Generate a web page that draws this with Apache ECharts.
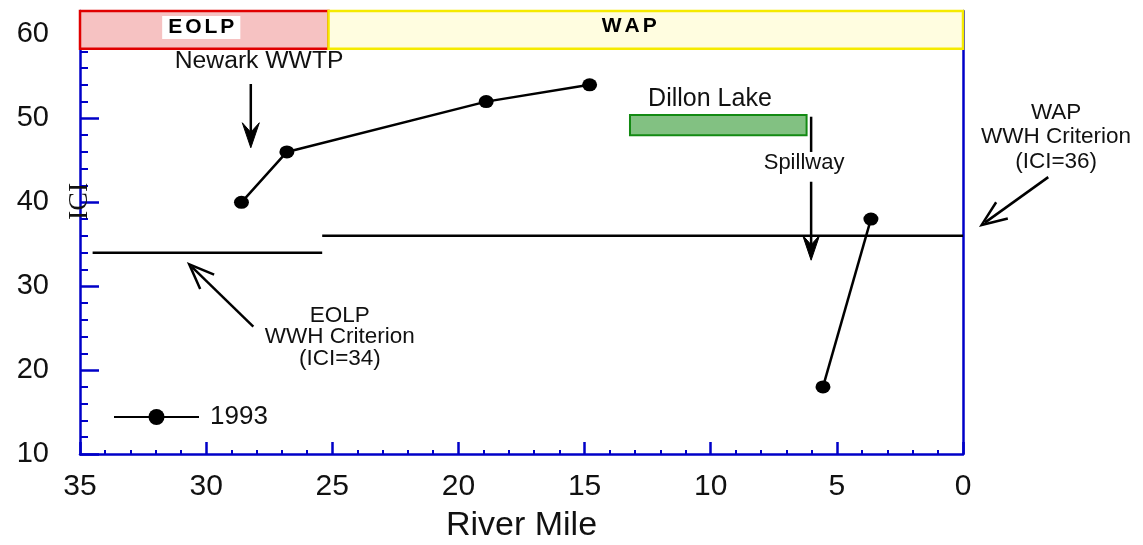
<!DOCTYPE html>
<html>
<head>
<meta charset="utf-8">
<script src="https://cdn.jsdelivr.net/npm/echarts@6/dist/echarts.min.js"></script>
<style>
  html, body { margin: 0; padding: 0; background: #ffffff; }
  #chart { width: 1143px; height: 545px; }
</style>
</head>
<body>
<div id="chart"></div>
<script>
// ICI scores by river mile, 1993 survey (upstream reach, then below Dillon Lake)
const upstreamMiles = [28.6, 26.8, 18.9, 14.8];
const upstreamICI = [40, 46, 52, 54];
const downstreamMiles = [5.55, 3.65];
const downstreamICI = [18, 38];

// Warmwater habitat criteria for each ecoregion
const eolpCriterionMiles = [34.5, 25.4];
const eolpCriterionICI = 34;
const wapCriterionMiles = [25.4, 0];
const wapCriterionICI = 36;

// Ecoregion extents along the river
const ecoregionNames = ['EOLP', 'WAP'];
const ecoregionFromMile = [35, 25.15];
const ecoregionToMile = [25.15, 0];

// Dillon Lake impoundment and its spillway
const lakeMiles = [13.2, 6.2];
const spillwayMile = 6.02;

// Axis scales
const xMin = 0, xMax = 35, xInterval = 5;
const yMin = 10, yMax = 62.8, yInterval = 10;

const FONT = '"Liberation Sans", Arial, Helvetica, sans-serif';
const BLUE = '#0000c8';
const INK = '#111111';
const zip = (xs, ys) => xs.map((x, i) => [x, Array.isArray(ys) ? ys[i] : ys]);

const chart = echarts.init(document.getElementById('chart'), null, { renderer: 'canvas' });

const bandColors = [
  { color: '#f6c2c2', borderColor: '#e00000' },
  { color: '#fffde0', borderColor: '#f5ea00' }
];
const bandLabelOffset = [[-3, -2.5], [-16.5, -3.5]];

// spaced capitals for the ecoregion headers
const spaced = (s) => s.split('').map((c) => '{s|' + c + '}').join('');

const option = {
  backgroundColor: '#ffffff',
  animation: false,
  grid: { left: 80, right: 180, top: 11, bottom: 91, outerBoundsMode: 'none' },
  legend: {
    data: ['1993'],
    left: 113,
    top: 404,
    padding: 0,
    itemWidth: 85,
    itemHeight: 20,
    textStyle: { fontFamily: FONT, fontSize: 26, color: INK, padding: [0, 0, 0, 6] }
  },
  xAxis: {
    type: 'value', inverse: true, min: xMin, max: xMax, interval: xInterval,
    name: 'River Mile', nameLocation: 'middle', nameGap: 55,
    nameTextStyle: { fontFamily: FONT, fontSize: 34, color: INK },
    axisLine: { show: true, onZero: false, lineStyle: { color: BLUE, width: 2.5 } },
    axisTick: { show: true, inside: true, length: 12, lineStyle: { color: BLUE, width: 2.5 } },
    minorTick: { show: true, splitNumber: 5, length: 4, lineStyle: { color: BLUE, width: 2 } },
    axisLabel: { margin: 18, fontFamily: FONT, fontSize: 30, color: INK },
    splitLine: { show: false }
  },
  yAxis: [
    {
      type: 'value', min: yMin, max: yMax, interval: yInterval,
      axisLine: { show: true, onZero: false, lineStyle: { color: BLUE, width: 2.5 } },
      axisTick: { show: true, inside: true, length: 19, lineStyle: { color: BLUE, width: 2.5 } },
      minorTick: { show: true, splitNumber: 5, length: 8, lineStyle: { color: BLUE, width: 2 } },
      axisLabel: { margin: 31, fontFamily: FONT, fontSize: 29, color: INK, showMaxLabel: false },
      splitLine: { show: false }
    },
    {
      type: 'value', position: 'right', min: yMin, max: yMax, interval: yInterval,
      axisLine: { show: true, onZero: false, lineStyle: { color: BLUE, width: 2.5 } },
      axisTick: { show: false }, axisLabel: { show: false }, splitLine: { show: false }
    }
  ],
  series: [
    {
      name: 'ecoregions', type: 'line', data: [], clip: false, silent: true, z: 4,
      markArea: {
        silent: true,
        data: ecoregionNames.map((name, i) => [
          {
            name: name,
            coord: [ecoregionFromMile[i], yMax],
            itemStyle: { color: bandColors[i].color, borderColor: bandColors[i].borderColor, borderWidth: 2.5 },
            label: {
              show: true, position: 'inside', offset: bandLabelOffset[i],
              formatter: (p) => spaced(p.name),
              rich: { s: { fontFamily: FONT, fontSize: 21, fontWeight: 'bold', color: '#000', padding: [0, 1.5, 0, 1.5] } },
              backgroundColor: i === 0 ? '#ffffff' : 'transparent',
              padding: i === 0 ? [1, 4.5] : 0
            }
          },
          { coord: [ecoregionToMile[i], 58.3] }
        ])
      }
    },
    {
      name: 'Dillon Lake', type: 'line', data: [], clip: false, silent: true, z: 3,
      markArea: {
        silent: true,
        label: { show: false },
        itemStyle: { color: '#82c182', borderColor: '#138a13', borderWidth: 2 },
        data: [[{ coord: [lakeMiles[0], 50.4] }, { coord: [lakeMiles[1], 48] }]]
      }
    },
    {
      name: 'EOLP criterion', type: 'line', data: zip(eolpCriterionMiles, eolpCriterionICI),
      symbol: 'none', silent: true, lineStyle: { color: '#000', width: 2.5 }, z: 3
    },
    {
      name: 'WAP criterion', type: 'line', data: zip(wapCriterionMiles, wapCriterionICI),
      symbol: 'none', silent: true, lineStyle: { color: '#000', width: 2.5 }, z: 3
    },
    {
      name: '1993', type: 'line', data: zip(upstreamMiles, upstreamICI),
      symbol: 'circle', symbolSize: [15, 13],
      itemStyle: { color: '#000' }, lineStyle: { color: '#000', width: 2.5 }, z: 6
    },
    {
      name: '1993', type: 'line', data: zip(downstreamMiles, downstreamICI),
      symbol: 'circle', symbolSize: [15, 13],
      itemStyle: { color: '#000' }, lineStyle: { color: '#000', width: 2.5 }, z: 6
    }
  ]
};

chart.setOption(option);

// Annotations, placed in river-mile / ICI units and converted through the grid
const toPx = (mile, ici) => chart.convertToPixel({ gridIndex: 0 }, [mile, ici]);

function textEl(str, mile, ici, size, extra) {
  const p = toPx(mile, ici);
  return Object.assign({
    type: 'text', x: p[0], y: p[1], z: 20,
    style: Object.assign({
      text: str, fill: INK, font: size + 'px ' + FONT,
      align: 'center', verticalAlign: 'middle'
    }, (extra && extra.style) || {})
  }, (extra && extra.el) || {});
}

function segment(a, b) {
  const p = toPx(a[0], a[1]), q = toPx(b[0], b[1]);
  return { type: 'line', z: 20, shape: { x1: p[0], y1: p[1], x2: q[0], y2: q[1] },
           style: { stroke: '#000', lineWidth: 2.5 } };
}

function arrow(from, to, kind) {
  const p = toPx(from[0], from[1]), t = toPx(to[0], to[1]);
  const dx = t[0] - p[0], dy = t[1] - p[1];
  const len = Math.hypot(dx, dy);
  const ux = dx / len, uy = dy / len, nx = -uy, ny = ux;
  const L = 25, W = kind === 'filled' ? 8.5 : 10;
  const a1 = [t[0] - ux * L + nx * W, t[1] - uy * L + ny * W];
  const a2 = [t[0] - ux * L - nx * W, t[1] - uy * L - ny * W];
  const els = [{ type: 'line', z: 20, shape: { x1: p[0], y1: p[1], x2: t[0] - ux * 4, y2: t[1] - uy * 4 },
                 style: { stroke: '#000', lineWidth: 2.5 } }];
  if (kind === 'filled') {
    const notch = [t[0] - ux * L * 0.62, t[1] - uy * L * 0.62];
    els.push({ type: 'polygon', z: 21, shape: { points: [t, a1, notch, a2] },
               style: { fill: '#000', stroke: '#000', lineWidth: 1 } });
  } else {
    els.push({ type: 'polyline', z: 21, shape: { points: [a1, t, a2] },
               style: { stroke: '#000', lineWidth: 2.5, fill: null } });
  }
  return els;
}

const graphics = [].concat(
  [
    textEl('Newark WWTP', 27.9, 56.8, 24.7),
    textEl('Dillon Lake', 10.03, 52.3, 25),
    textEl('Spillway', 6.3, 44.7, 22),
    textEl('EOLP\nWWH Criterion\n(ICI=34)', 24.7, 23.95, 22.5, { style: { lineHeight: 21.5 } }),
    textEl('WAP\nWWH Criterion\n(ICI=36)', -3.69, 47.8, 22.5, { style: { lineHeight: 24.5 } }),
    textEl('ICI', 35, 40.1, 28, {
      style: { font: '28px "Liberation Serif", "Times New Roman", serif' },
      el: { rotation: Math.PI / 2 }
    }),
    segment([spillwayMile, 50.2], [spillwayMile, 46.0])
  ],
  arrow([28.23, 54.1], [28.23, 46.5], 'filled'),
  arrow([spillwayMile, 42.45], [spillwayMile, 33.1], 'filled'),
  arrow([28.13, 25.17], [30.67, 32.6], 'open'),
  arrow([-3.38, 43.0], [-0.74, 37.3], 'open')
);

chart.setOption({ graphic: graphics });
</script>
</body>
</html>
